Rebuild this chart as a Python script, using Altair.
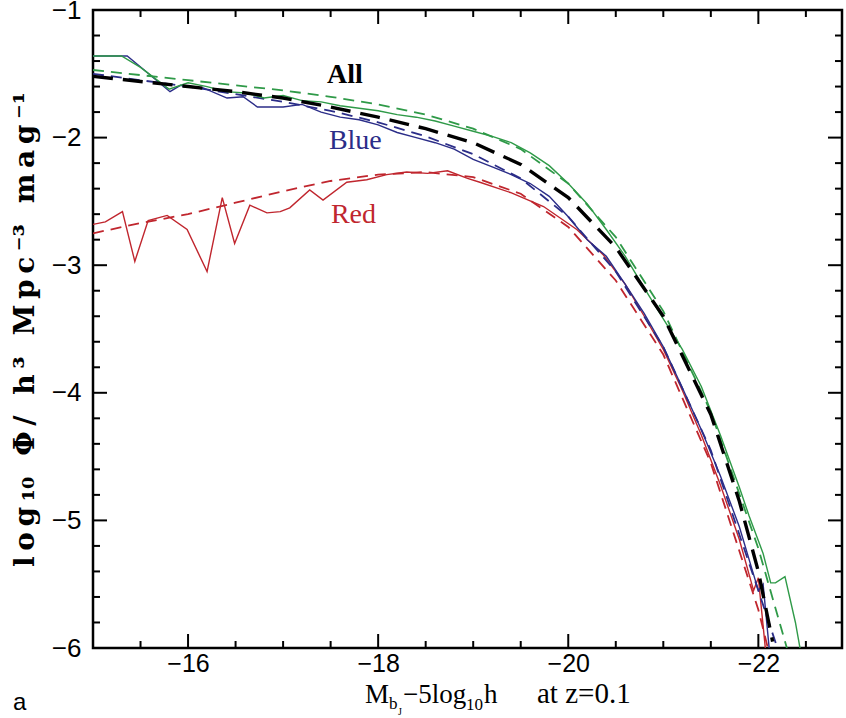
import altair as alt
import pandas as pd

W, H = 749, 638

# ---- data ----
all_fit_x = [-15, -15.5, -16, -16.5, -17, -17.5, -18, -18.5, -19, -19.5, -20, -20.5, -21, -21.5, -21.8, -22, -22.15]
all_fit_y = [-1.52, -1.56, -1.60, -1.64, -1.69, -1.76, -1.84, -1.93, -2.04, -2.21, -2.47, -2.86, -3.40, -4.17, -4.85, -5.40, -5.95]

green_fit_x = [-15, -15.5, -16, -16.5, -17, -17.5, -18, -18.5, -19, -19.5, -20, -20.5, -21, -21.5, -22, -22.3]
green_fit_y = [-1.47, -1.51, -1.55, -1.59, -1.63, -1.68, -1.74, -1.82, -1.93, -2.09, -2.36, -2.78, -3.36, -4.15, -5.22, -6.0]

green_x = [-15.0, -15.3, -15.5, -15.8, -16.0, -16.2, -16.4, -16.6, -16.8, -17.0, -17.2, -17.4, -17.6, -17.8,
           -18.0, -18.2, -18.4, -18.6, -18.8, -19.0, -19.2, -19.4, -19.6, -19.8, -20.0, -20.2, -20.4, -20.6,
           -20.8, -21.0, -21.2, -21.4, -21.6, -21.8, -21.9, -22.05, -22.13, -22.18, -22.28, -22.39, -22.45]
green_y = [-1.36, -1.36, -1.45, -1.62, -1.57, -1.60, -1.64, -1.65, -1.69, -1.67, -1.71, -1.72, -1.75, -1.77,
           -1.79, -1.82, -1.84, -1.87, -1.91, -1.95, -1.99, -2.04, -2.12, -2.22, -2.36, -2.52, -2.72, -2.93,
           -3.18, -3.42, -3.66, -3.95, -4.33, -4.74, -4.96, -5.26, -5.49, -5.49, -5.44, -5.80, -6.05]

blue_x = [-15.0, -15.36, -15.57, -15.81, -15.92, -16.16, -16.41, -16.58, -16.73, -17.0, -17.2, -17.4, -17.6,
          -17.8, -18.0, -18.2, -18.4, -18.6, -18.8, -19.0, -19.2, -19.4, -19.6, -19.8, -20.0, -20.2, -20.4,
          -20.6, -20.8, -21.0, -21.2, -21.4, -21.6, -21.8, -22.0, -22.05, -22.12]
blue_y = [-1.36, -1.36, -1.49, -1.64, -1.59, -1.61, -1.69, -1.68, -1.76, -1.76, -1.74, -1.80, -1.84,
          -1.86, -1.90, -1.96, -2.00, -2.04, -2.09, -2.17, -2.23, -2.29, -2.36, -2.46, -2.62, -2.80, -2.93,
          -3.15, -3.38, -3.64, -3.96, -4.29, -4.65, -5.05, -5.55, -5.50, -6.05]

blue_fit_x = [-15, -15.5, -16, -16.5, -17, -17.5, -18, -18.5, -19, -19.5, -20, -20.5, -21, -21.5, -22, -22.2]
blue_fit_y = [-1.50, -1.55, -1.60, -1.66, -1.72, -1.79, -1.88, -1.99, -2.13, -2.32, -2.62, -3.05, -3.64, -4.45, -5.55, -6.0]

red_x = [-15.0, -15.13, -15.31, -15.44, -15.58, -15.78, -15.99, -16.2, -16.36, -16.49, -16.65, -16.83, -16.97,
         -17.07, -17.28, -17.42, -17.67, -17.88, -18.09, -18.3, -18.52, -18.73, -18.94, -19.07, -19.39, -19.74,
         -20.09, -20.37, -20.6, -20.8, -21.0, -21.2, -21.4, -21.6, -21.8, -21.95, -22.0, -22.08]
red_y = [-2.68, -2.66, -2.58, -2.97, -2.65, -2.61, -2.72, -3.05, -2.47, -2.83, -2.53, -2.59, -2.58,
         -2.55, -2.41, -2.49, -2.35, -2.33, -2.29, -2.27, -2.28, -2.26, -2.32, -2.35, -2.43, -2.54,
         -2.72, -2.92, -3.15, -3.40, -3.66, -3.98, -4.33, -4.72, -5.15, -5.55, -5.45, -6.05]

red_fit_x = [-15, -15.5, -16, -16.5, -17, -17.5, -18, -18.5, -19, -19.5, -20, -20.5, -21, -21.5, -22, -22.1]
red_fit_y = [-2.75, -2.67, -2.60, -2.51, -2.42, -2.34, -2.29, -2.27, -2.31, -2.44, -2.70, -3.12, -3.70, -4.55, -5.70, -6.0]

label_text = ["All", "Blue", "Red"]
label_x = [-17.65, -17.76, -17.74]
label_y = [-1.51, -2.03, -2.61]

x_major = [-16, -18, -20, -22]
x_minor = [-15.5, -16.5, -17, -17.5, -18.5, -19, -19.5, -20.5, -21, -21.5, -22.5]
y_major = [-2, -3, -4, -5]
y_minor = [-1.2, -1.4, -1.6, -1.8, -2.2, -2.4, -2.6, -2.8, -3.2, -3.4, -3.6, -3.8,
           -4.2, -4.4, -4.6, -4.8, -5.2, -5.4, -5.6, -5.8]
y_labels = [-1, -2, -3, -4, -5, -6]

# ---- styling ----
GREEN = "#2f9a48"
BLUE = "#2b2d88"
RED = "#c0262e"
LABEL_FONT = "Liberation Sans"
SERIF = "Liberation Serif"
YTITLE_FONT = "DejaVu Serif"

xscale = alt.Scale(domain=[-15, -22.88], nice=False, zero=False)
yscale = alt.Scale(domain=[-6, -1], nice=False, zero=False)
xaxis = alt.Axis(values=x_major, title=None, ticks=False, domain=False, grid=False,
                 labelFont=LABEL_FONT, labelFontSize=25, labelPadding=3, labelColor="black")
TS = "\u2009"  # thin space used as letter spacing in the rotated title
ytitle = TS.join(["l", "o", "g", "\u2081\u2080", " ", "\u03a6", "/", " ", "h", "\u00b3", " ",
                  "M", "p", "c", "\u207b\u00b3", " ", "m", "a", "g", "\u207b\u00b9"])
yaxis = alt.Axis(values=y_labels, title=ytitle, ticks=False, domain=False, grid=False,
                 labelFont=LABEL_FONT, labelFontSize=26, labelPadding=12, labelColor="black",
                 titleFont=YTITLE_FONT, titleFontSize=28, titleFontWeight="bold", titleColor="black",
                 titlePadding=12)


def series(xs, ys, color, width, dash=None):
    df = pd.DataFrame({"x": xs, "y": ys})
    kw = dict(color=color, strokeWidth=width, clip=True)
    if dash is not None:
        kw["strokeDash"] = dash
    return alt.Chart(df).mark_line(**kw).encode(
        x=alt.X("x:Q", scale=xscale, axis=xaxis),
        y=alt.Y("y:Q", scale=yscale, axis=yaxis),
        order=alt.Order("idx:Q"),
    ).transform_window(idx="row_number()")


def xticks(vals, length, top):
    df = pd.DataFrame({"x": vals})
    if top:
        yy = dict(y=alt.value(0), y2=alt.value(length))
    else:
        yy = dict(y=alt.value(H), y2=alt.value(H - length))
    return alt.Chart(df).mark_rule(color="black", strokeWidth=2).encode(
        x=alt.X("x:Q", scale=xscale, axis=xaxis), **yy)


def yticks(vals, length, right):
    df = pd.DataFrame({"y": vals})
    if right:
        xx = dict(x=alt.value(W), x2=alt.value(W - length))
    else:
        xx = dict(x=alt.value(0), x2=alt.value(length))
    return alt.Chart(df).mark_rule(color="black", strokeWidth=2).encode(
        y=alt.Y("y:Q", scale=yscale, axis=yaxis), **xx)


layers = [
    series(red_fit_x, red_fit_y, RED, 1.8, [11, 7]),
    series(red_x, red_y, RED, 1.4),
    series(blue_fit_x, blue_fit_y, BLUE, 1.8, [11, 7]),
    series(blue_x, blue_y, BLUE, 1.4),
    series(green_fit_x, green_fit_y, GREEN, 1.8, [11, 7]),
    series(green_x, green_y, GREEN, 1.4),
    series(all_fit_x, all_fit_y, "black", 3.4, [20, 10]),
]

for top in (True, False):
    layers.append(xticks(x_major, 14, top))
    layers.append(xticks(x_minor, 7, top))
for right in (True, False):
    layers.append(yticks(y_major, 14, right))
    layers.append(yticks(y_minor, 7, right))

# curve labels
lab_df = pd.DataFrame({"x": label_x, "y": label_y, "t": label_text})
lab_colors = ["black", BLUE, RED]
for i in range(3):
    layers.append(
        alt.Chart(lab_df.iloc[[i]]).mark_text(
            font=SERIF, fontSize=28, fontWeight="bold" if i == 0 else "normal",
            color=lab_colors[i]).encode(
            x=alt.X("x:Q", scale=xscale, axis=xaxis),
            y=alt.Y("y:Q", scale=yscale, axis=yaxis),
            text="t:N")
    )

# x-axis title pieces (M_bJ - 5 log10 h    at z=0.1)
def txt(s, px, py, size, font=SERIF):
    return alt.Chart(pd.DataFrame({"t": [s]})).mark_text(
        text=s, font=font, fontSize=size, align="left", baseline="alphabetic", color="black"
    ).encode(x=alt.value(px), y=alt.value(py))

base_y = 693
layers += [
    txt("M", 272, base_y, 27),
    txt("b", 296, base_y + 6, 17),
    txt("J", 305, base_y + 12, 10),
    txt("\u22125log", 310, base_y, 27),
    txt("10", 373, base_y + 7, 17),
    txt("h", 391, base_y, 27),
    txt("at  z=0.1", 444, base_y, 29),
    txt("a", -80, base_y + 7, 24, "Liberation Sans"),
]

chart = alt.layer(*layers).properties(
    width=W, height=H,
    autosize=alt.AutoSizeParams(type="none"),
    padding={"left": 93, "top": 10, "right": 4, "bottom": 70},
    background="white",
).configure_view(stroke="black", strokeWidth=2.5)

chart.save("out.html", embed_options={"renderer": "svg", "actions": False})
